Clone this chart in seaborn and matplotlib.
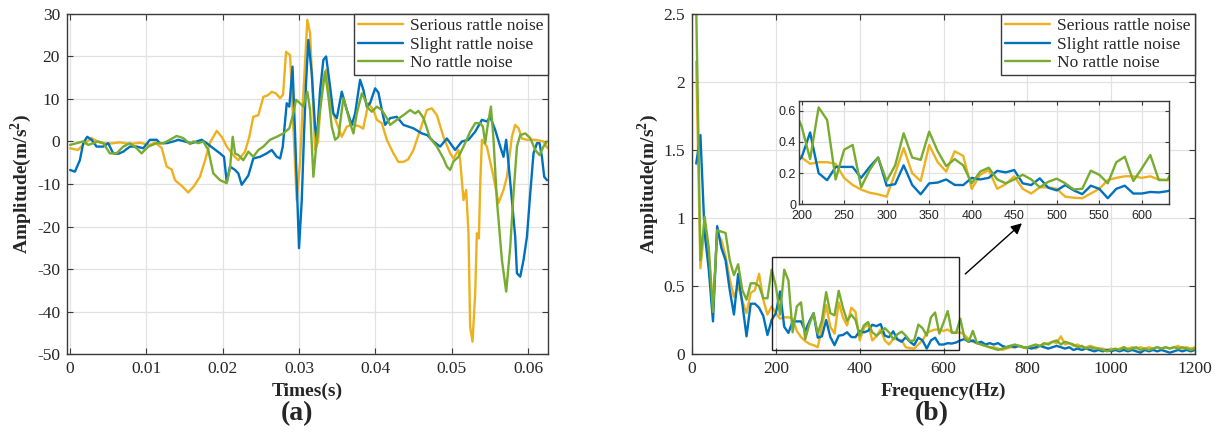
import numpy as np
import matplotlib
matplotlib.use("Agg")
import matplotlib.pyplot as plt
from matplotlib.patches import Rectangle
import seaborn as sns

# ---------------- data ----------------
labels = ['Serious rattle noise', 'Slight rattle noise', 'No rattle noise']
colors = ['#EDB120', '#0072BD', '#77AC30']

# (a) time signals, time in ms
t_serious = [0.0, 1.02, 1.94, 2.82, 3.91, 5.22, 6.53, 7.84, 9.15, 10.46, 11.12, 12.00, 12.65, 13.31, 13.74,
             14.66, 15.48, 16.23, 17.01, 17.67, 18.32, 19.21, 19.90, 20.52, 21.38, 22.04, 22.91, 23.48, 24.00,
             24.66, 25.32, 25.93, 26.42, 26.98, 27.51, 27.90, 28.29, 28.82, 29.21, 29.69, 30.12, 30.52, 31.08,
             31.44, 31.77, 32.09, 32.49, 32.97, 33.54, 34.28, 34.94, 35.59, 36.25, 37.08, 37.99, 38.39, 39.08,
             39.74, 40.18, 40.84, 41.49, 42.36, 43.01, 43.67, 44.29, 44.98, 45.86, 46.74, 47.39, 48.05, 48.91,
             49.79, 50.22, 50.88, 51.10, 51.54, 51.89, 52.19, 52.41, 52.72, 53.07, 53.29, 53.55, 53.72, 53.95,
             54.60, 55.47, 56.12, 56.78, 57.23, 57.88, 58.31, 58.75, 59.19, 59.85, 60.94, 62.02, 62.47, 62.68]
a_serious = [-1.6, -2.0, -0.4, 0.8, -0.3, -0.5, -0.2, -0.6, -0.3, -0.8, -0.2, -1.5, -5.9, -6.6, -9.1,
             -10.5, -12.0, -10.5, -8.3, -4.5, -0.3, 2.5, 1.0, -1.2, -3.2, -4.4, -2.4, 1.1, 5.8,
             6.2, 10.5, 10.9, 11.7, 11.3, 10.2, 11.0, 21.1, 20.3, 5.0, -13.8, -5.0, 10.0, 28.6,
             25.5, 12.0, -2.0, 0.0, 13.7, 16.8, 7.4, 4.3, 1.1, 3.5, 4.0, 3.5, 3.0, 9.0,
             7.4, 5.1, 4.3, 0.4, -2.8, -4.8, -4.8, -4.2, -2.0, 2.7, 7.4, 7.8, 6.2, 1.1,
             -2.8, -4.0, -2.0, -4.4, -13.8, -11.4, -21.6, -43.6, -47.1, -35.7, -21.6, -22.8, -10.6, 0.4,
             -1.2, -8.3, -14.5, -11.4, -8.3, 1.1, 3.9, 3.1, 0.7, 0.4, 0.4, 0.0, -1.4, -1.6]

t_slight = [0.0, 0.63, 1.28, 1.72, 2.24, 2.82, 3.47, 4.34, 4.99, 5.65,
            6.31, 6.96, 7.84, 8.72, 9.58, 10.46, 11.34, 11.77, 12.65, 13.52,
            14.17, 15.05, 15.93, 16.58, 17.24, 17.89, 18.76, 19.64, 20.16, 20.52,
            20.95, 21.61, 22.04, 22.48, 22.91, 23.35, 24.00, 24.88, 25.76, 26.42,
            27.07, 27.51, 27.86, 28.38, 28.72, 29.14, 29.47, 29.99, 30.35, 30.65,
            30.91, 31.21, 31.66, 32.09, 32.32, 32.75, 33.18, 33.54, 34.06, 34.49,
            34.94, 35.59, 36.25, 36.90, 37.34, 37.99, 38.43, 38.87, 39.30, 39.96,
            40.39, 40.84, 41.27, 41.93, 42.80, 43.67, 44.98, 46.08, 46.78, 47.60,
            48.48, 49.36, 50.45, 51.33, 52.19, 53.07, 53.95, 54.60, 55.04, 55.69,
            56.35, 56.78, 57.13, 57.43, 57.88, 58.31, 58.54, 58.97, 59.40, 59.85,
            60.28, 60.71, 61.16, 61.50, 61.81, 62.11, 62.47]
a_slight = [-6.7, -7.1, -4.4, -0.4, 1.1, 0.4, -1.2, -1.2, -0.4, -2.8,
            -2.9, -2.4, -1.2, -1.2, -1.6, 0.4, 0.4, -0.4, -0.4, 0.0,
            0.4, 0.0, -0.4, 0.0, 0.4, -0.4, -1.6, -2.8, -3.6, -9.5,
            -5.9, -6.7, -7.5, -10.2, -9.1, -8.0, -4.0, -3.6, -2.8, -2.0,
            -3.6, -4.0, -1.2, 9.0, 8.2, 17.6, 1.9, -25.1, -13.8, 1.9,
            13.7, 23.9, 16.0, 3.5, 0.4, 12.1, 19.2, 20.0, 12.9, 6.6,
            5.5, 11.7, 7.4, 3.9, 6.6, 14.5, 12.1, 8.2, 9.0, 12.5,
            11.5, 7.4, 3.9, 5.5, 5.8, 3.9, 3.1, 1.9, 1.5, 0.0,
            -1.2, 0.7, -2.0, 0.0, 0.4, 2.3, 5.1, 4.7, 5.8, 2.7,
            -1.2, -3.6, 0.4, -5.1, -13.8, -22.4, -31.0, -31.8, -27.9, -22.4,
            -12.2, -2.8, -0.4, -0.4, -3.6, -8.3, -9.1]

t_none = [0.0, 0.85, 1.72, 2.37, 3.03, 3.68, 4.34, 5.22, 6.10, 6.96,
          7.84, 8.72, 9.37, 10.24, 11.34, 12.21, 13.08, 13.96, 14.83, 15.71,
          16.14, 16.79, 17.45, 18.10, 18.76, 19.64, 20.52, 20.95, 21.30, 21.61,
          22.04, 22.69, 23.35, 24.00, 24.66, 25.32, 26.19, 27.07, 27.94, 28.72,
          29.25, 29.60, 30.12, 30.56, 31.08, 31.44, 31.87, 32.32, 32.75, 33.40,
          33.84, 34.28, 34.72, 35.15, 35.80, 36.25, 36.68, 37.12, 37.56, 38.22,
          38.65, 39.08, 39.53, 40.18, 40.84, 41.49, 41.93, 42.80, 43.67, 44.55,
          45.20, 45.64, 46.30, 47.16, 48.05, 48.91, 49.36, 49.79, 50.22, 50.88,
          51.54, 52.41, 53.07, 53.72, 54.08, 54.38, 54.68, 55.13, 55.47, 55.91,
          56.57, 57.13, 57.66, 58.09, 58.54, 58.97, 59.63, 60.28, 60.94, 61.50,
          62.02, 62.47]
a_none = [-0.8, -0.4, 0.0, -0.8, -0.4, 0.0, -0.4, -2.8, -2.8, -1.2,
          -0.4, -1.6, -2.8, -1.2, -0.4, -0.4, 0.4, 1.3, 0.8, -0.6,
          0.0, -0.4, 0.0, -2.0, -7.5, -9.1, -9.8, -6.3, 1.1, -2.8,
          -3.2, -4.4, -2.4, -3.6, -2.0, -1.2, 0.4, 1.1, 1.9, 3.1,
          6.6, 9.8, 9.0, 8.2, 11.7, 7.4, -8.3, 0.4, 7.4, 16.4,
          10.5, 3.5, 0.4, 1.1, 10.2, 7.4, 4.3, 1.9, 6.6, 11.3,
          9.8, 7.8, 7.0, 8.2, 7.4, 5.5, 3.9, 5.1, 6.2, 7.4,
          6.6, 7.2, 5.5, 0.8, -1.2, -4.0, -5.9, -6.7, -4.7, -3.6,
          -1.2, 2.3, 4.3, 4.3, 3.5, -0.4, 3.5, 8.2, 0.4, -13.8,
          -27.9, -35.3, -24.8, -12.2, -1.2, 1.5, 1.9, 0.8, -2.0, -3.2,
          -1.2, 0.0]

# (b) spectra, 10 Hz bins from 10 to 1200 Hz
freq = np.arange(10, 1210, 10)
s_serious = [2.15, 0.63, 0.94, 0.72, 0.34, 0.88, 0.84, 0.72, 0.55, 0.42, 0.50, 0.39, 0.30, 0.45, 0.47, 0.59, 0.40, 0.29, 0.35, 0.30,
             0.26, 0.27, 0.27, 0.26, 0.17, 0.125, 0.095, 0.075, 0.065, 0.05,
             0.20, 0.36, 0.20, 0.15, 0.38, 0.27, 0.21, 0.34, 0.31, 0.10,
             0.19, 0.22, 0.10, 0.13, 0.18, 0.10, 0.07, 0.11, 0.11, 0.10,
             0.05, 0.043, 0.04, 0.07, 0.10, 0.156, 0.17, 0.18, 0.18, 0.17,
             0.18, 0.16, 0.156, 0.16, 0.14, 0.11, 0.09, 0.08, 0.07, 0.06,
             0.05, 0.05, 0.04, 0.03, 0.04, 0.05, 0.05, 0.06, 0.05, 0.04,
             0.05, 0.04, 0.06, 0.07, 0.08, 0.09, 0.08, 0.13, 0.07, 0.08,
             0.06, 0.07, 0.05, 0.05, 0.06, 0.05, 0.04, 0.04, 0.03, 0.04,
             0.03, 0.04, 0.05, 0.04, 0.05, 0.04, 0.05, 0.04, 0.05, 0.04,
             0.05, 0.04, 0.05, 0.04, 0.05, 0.06, 0.04, 0.05, 0.04, 0.05]
s_slight = [1.40, 1.61, 0.89, 0.62, 0.24, 0.94, 0.78, 0.69, 0.47, 0.29, 0.59, 0.37, 0.13, 0.37, 0.37, 0.34, 0.28, 0.14, 0.25, 0.30,
            0.46, 0.20, 0.155, 0.24, 0.24, 0.24, 0.17, 0.24, 0.30, 0.12,
            0.13, 0.25, 0.125, 0.065, 0.135, 0.14, 0.16, 0.125, 0.124, 0.17,
            0.16, 0.17, 0.215, 0.205, 0.22, 0.135, 0.124, 0.167, 0.107, 0.09,
            0.124, 0.09, 0.066, 0.12, 0.10, 0.04, 0.10, 0.12, 0.07, 0.07,
            0.08, 0.077, 0.085, 0.10, 0.11, 0.09, 0.10, 0.08, 0.09, 0.07,
            0.08, 0.07, 0.08, 0.06, 0.05, 0.06, 0.05, 0.06, 0.05, 0.05,
            0.04, 0.05, 0.06, 0.05, 0.04, 0.05, 0.06, 0.05, 0.04, 0.05,
            0.03, 0.04, 0.03, 0.04, 0.03, 0.02, 0.03, 0.02, 0.03, 0.02,
            0.03, 0.02, 0.03, 0.02, 0.03, 0.02, 0.01, 0.03, 0.02, 0.03,
            0.02, 0.03, 0.02, 0.01, 0.02, 0.03, 0.02, 0.03, 0.02, 0.03]
s_none = [2.55, 0.69, 1.01, 0.78, 0.31, 0.91, 0.90, 0.89, 0.69, 0.58, 0.66, 0.47, 0.40, 0.52, 0.52, 0.50, 0.41, 0.41, 0.62, 0.50,
          0.29, 0.62, 0.54, 0.16, 0.35, 0.38, 0.11, 0.22, 0.30, 0.15,
          0.25, 0.455, 0.30, 0.285, 0.465, 0.34, 0.245, 0.29, 0.25, 0.135,
          0.21, 0.235, 0.16, 0.135, 0.16, 0.19, 0.16, 0.11, 0.145, 0.165,
          0.135, 0.096, 0.10, 0.216, 0.19, 0.135, 0.27, 0.305, 0.15, 0.23,
          0.316, 0.156, 0.156, 0.26, 0.12, 0.09, 0.17, 0.08, 0.07, 0.06,
          0.05, 0.04, 0.03, 0.04, 0.05, 0.06, 0.07, 0.06, 0.05, 0.05,
          0.06, 0.07, 0.06, 0.08, 0.07, 0.09, 0.10, 0.07, 0.09, 0.08,
          0.07, 0.05, 0.06, 0.04, 0.05, 0.04, 0.04, 0.03, 0.02, 0.03,
          0.04, 0.03, 0.05, 0.03, 0.04, 0.05, 0.03, 0.04, 0.03, 0.04,
          0.05, 0.04, 0.05, 0.04, 0.05, 0.04, 0.05, 0.04, 0.03, 0.04]

t_ticks = [0, 0.01, 0.02, 0.03, 0.04, 0.05, 0.06]
t_ticklabels = ['0', '0.01', '0.02', '0.03', '0.04', '0.05', '0.06']
a_ticks = [-50, -40, -30, -20, -10, 0, 10, 20, 30]
f_ticks = [0, 200, 400, 600, 800, 1000, 1200]
s_ticks = [0, 0.5, 1, 1.5, 2, 2.5]
s_ticklabels = ['0', '0.5', '1', '1.5', '2', '2.5']
in_fticks = [200, 250, 300, 350, 400, 450, 500, 550, 600]
in_sticks = [0, 0.2, 0.4, 0.6]
in_sticklabels = ['0', '0.2', '0.4', '0.6']

# ---------------- style ----------------
sns.set_theme(style='whitegrid')
plt.rcParams['font.family'] = ['Liberation Serif', 'DejaVu Serif']
plt.rcParams['mathtext.fontset'] = 'custom'
plt.rcParams['mathtext.rm'] = 'Liberation Serif'
plt.rcParams['mathtext.bf'] = 'Liberation Serif:bold'
plt.rcParams['axes.unicode_minus'] = False

spine_c = '#3a3a3a'
grid_c = '#e2e2e2'


def style_axes(ax, fs):
    ax.grid(True, color=grid_c, lw=0.9)
    for sp in ax.spines.values():
        sp.set_color(spine_c)
        sp.set_linewidth(1.0)
    ax.tick_params(direction='in', top=True, right=True, bottom=True, left=True,
                   length=4, width=0.8, color=spine_c, labelsize=fs, labelcolor='#262626', pad=5)


fig = plt.figure(figsize=(12.19, 4.36), dpi=100)
ax1 = fig.add_axes([0.055, 0.188, 0.3945, 0.780])
ax2 = fig.add_axes([0.5677, 0.188, 0.4126, 0.780])

# ---------------- (a) ----------------
series_a = [(t_serious, a_serious), (t_slight, a_slight), (t_none, a_none)]
for (t, a), lab, c in zip(series_a, labels, colors):
    sns.lineplot(x=np.array(t) / 1000, y=a, ax=ax1, color=c, label=lab, lw=1.7,
                 estimator=None, sort=False)
ax1.set_xlim(-0.0004, 0.0626)
ax1.set_ylim(-50, 30)
ax1.set_xticks(t_ticks)
ax1.set_xticklabels(t_ticklabels)
ax1.set_yticks(a_ticks)
style_axes(ax1, 12.5)
ax1.set_xlabel('Times(s)', fontsize=14, fontweight='bold', labelpad=4)
ax1.set_ylabel(r'Amplitude(m/s$^{\mathbf{2}}$)', fontsize=14, fontweight='bold', labelpad=2)

leg_kw = dict(loc='upper right', borderaxespad=0, fancybox=False, framealpha=1,
              edgecolor=spine_c, fontsize=12.5, handlelength=2.6, labelspacing=0.12,
              borderpad=0.25, handletextpad=0.4)
ax1.legend(**leg_kw).get_frame().set_linewidth(1.0)

# ---------------- (b) ----------------
spectra = [s_serious, s_slight, s_none]
for s, lab, c in zip(spectra, labels, colors):
    sns.lineplot(x=freq, y=s, ax=ax2, color=c, label=lab, lw=1.7, estimator=None, sort=False)
ax2.set_xlim(0, 1200)
ax2.set_ylim(0, 2.5)
ax2.set_xticks(f_ticks)
ax2.set_yticks(s_ticks)
ax2.set_yticklabels(s_ticklabels)
style_axes(ax2, 12.5)
ax2.set_xlabel('Frequency(Hz)', fontsize=14, fontweight='bold', labelpad=4)
ax2.set_ylabel(r'Amplitude(m/s$^{\mathbf{2}}$)', fontsize=14, fontweight='bold', labelpad=2)
ax2.legend(**leg_kw).get_frame().set_linewidth(1.0)

# zoom box and arrow
ax2.add_patch(Rectangle((192, 0.03), 445, 0.685, fill=False, ec='#222222', lw=1.0, zorder=5))
ax2.annotate('', xy=(792, 0.975), xytext=(647, 0.575),
             arrowprops=dict(arrowstyle='-|>', color='black', lw=1.0, mutation_scale=16))

# inset
axin = fig.add_axes([0.6555, 0.531, 0.3035, 0.237])
for s, c in zip(spectra, colors):
    sns.lineplot(x=freq, y=s, ax=axin, color=c, lw=1.7, estimator=None, sort=False)
axin.set_xlim(197, 632)
axin.set_ylim(0, 0.66)
axin.set_xticks(in_fticks)
axin.set_yticks(in_sticks)
axin.set_yticklabels(in_sticklabels)
style_axes(axin, 9)
axin.tick_params(axis='y', pad=2, length=3)
axin.tick_params(axis='x', pad=4, length=3)
for lbl in axin.get_xticklabels() + axin.get_yticklabels():
    lbl.set_family(['Liberation Sans', 'DejaVu Sans'])
axin.set_facecolor('white')

# panel letters
fig.text(0.2435, 0.052, '(a)', fontsize=20, fontweight='bold', ha='center', va='center')
fig.text(0.7646, 0.052, '(b)', fontsize=20, fontweight='bold', ha='center', va='center')

fig.savefig('out.png', dpi=100)
